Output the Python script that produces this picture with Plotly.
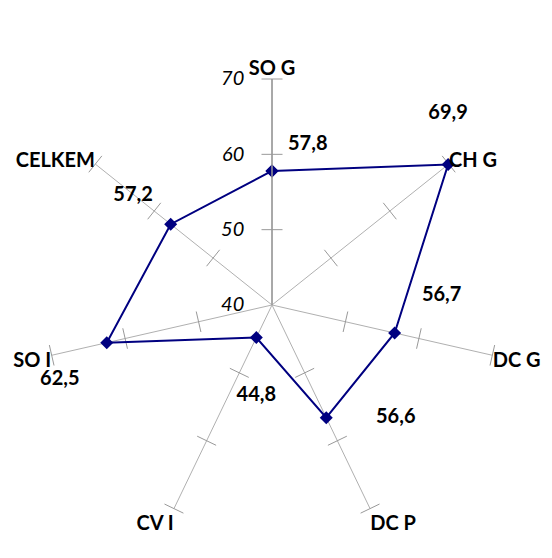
import plotly.graph_objects as go

categories = ["SO G", "CH G", "DC G", "DC P", "CV I", "SO I", "CELKEM"]
values = [57.8, 69.9, 56.7, 56.6, 44.8, 62.5, 57.2]
tick_values = [40, 50, 60, 70]
label_positions = ["top right", "top center", "top right", "middle right",
                   "bottom center", "bottom left", "top left"]
label_pad = [24, 64, 42, 78, 76, 42, 27]

FONT = "Lato"
n = len(categories)

fig = go.Figure()

# tick marks on every spoke (perpendicular short lines)
tick_r, tick_theta, tick_ang = [], [], []
for i, c in enumerate(categories):
    for t in tick_values[1:]:
        tick_r.append(t)
        tick_theta.append(c)
        tick_ang.append(i * 360.0 / n)
fig.add_trace(go.Scatterpolar(
    r=tick_r, theta=tick_theta, mode="markers", hoverinfo="skip",
    marker=dict(symbol="line-ew", size=15, angle=tick_ang,
                line=dict(color="#999999", width=1)),
))

fig.add_trace(go.Scatterpolar(
    r=values + [values[0]], theta=categories + [categories[0]],
    mode="lines+markers", line=dict(color="#000080", width=2),
    marker=dict(symbol="diamond", size=10, color="#000080"),
))
fig.add_trace(go.Scatterpolar(
    r=values, theta=categories, mode="markers+text", hoverinfo="skip",
    marker=dict(size=label_pad, opacity=0),
    text=[f"{v:.1f}".replace(".", ",") for v in values],
    textposition=label_positions,
    textfont=dict(family=FONT, size=20, color="black", weight="bold"),
))

fig.update_layout(
    width=536, height=542, showlegend=False,
    paper_bgcolor="white", plot_bgcolor="white",
    margin=dict(l=0, r=0, t=0, b=0),
    polar=dict(
        domain=dict(x=[0.0709, 0.9142], y=[0.0351, 0.8690]),
        bgcolor="white",
        angularaxis=dict(direction="clockwise", rotation=90,
                         showline=False, ticks="",
                         gridcolor="#b0b0b0", gridwidth=1,
                         tickfont=dict(family=FONT, size=20, color="black", weight="bold")),
        radialaxis=dict(range=[40, 70], tickvals=tick_values, angle=90,
                        tickangle=90, showgrid=False, showline=True,
                        linecolor="#999999", linewidth=1.5,
                        ticks="outside", ticklen=20, tickcolor="rgba(0,0,0,0)",
                        side="counterclockwise",
                        tickfont=dict(family=FONT, size=20, color="black", style="italic")),
    ),
)

fig.write_html("out.html")
